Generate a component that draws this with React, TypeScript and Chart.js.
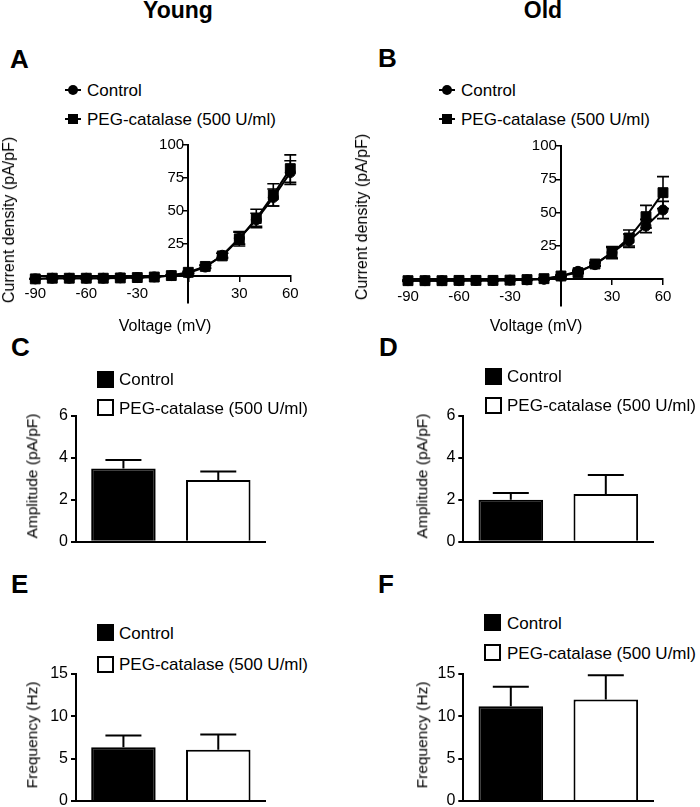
import React, { useEffect, useRef } from "react";
import { Chart, registerables } from "chart.js";

Chart.register(...registerables);
Chart.defaults.font.family = "'Liberation Sans', Arial, sans-serif";
Chart.defaults.color = "#000";

// ---------- Data ----------
const voltages = [-90, -80, -70, -60, -50, -40, -30, -20, -10, 0, 10, 20, 30, 40, 50, 60];
const xTickStep = 30;
const ivTicks = [25, 50, 75, 100];

const youngControl = [-2, -1.5, -1.5, -1.5, -1.5, -1.2, -1, -0.5, 0.5, 2.5, 7, 16, 29, 43, 60, 79];
const youngControlErr = [0.3, 0.3, 0.3, 0.3, 0.3, 0.3, 0.3, 0.3, 0.4, 0.6, 1, 1.5, 4.5, 5, 6.5, 9];
const youngPeg = [-2, -1.5, -1.5, -1.5, -1.5, -1.3, -1, -0.6, 0.5, 3, 7.5, 15.5, 28.5, 44, 62, 82];
const youngPegErr = [0.3, 0.3, 0.3, 0.3, 0.3, 0.3, 0.3, 0.3, 0.5, 0.8, 1.2, 2, 5.5, 7, 8.5, 10.5];

const oldControl = [-1, -1, -1, -1, -0.8, -0.8, -0.6, -0.4, 0, 2.5, 6, 11, 20, 29, 40, 52];
const oldControlErr = [0.3, 0.3, 0.3, 0.3, 0.3, 0.3, 0.3, 0.3, 0.4, 0.5, 0.8, 1.2, 4, 5, 5, 6.5];
const oldPeg = [-1, -1, -1, -0.8, -0.8, -0.8, -0.6, -0.2, 0.5, 2.5, 5, 11.5, 20, 31, 47, 65];
const oldPegErr = [0.3, 0.3, 0.3, 0.3, 0.3, 0.3, 0.3, 0.3, 0.4, 0.5, 0.8, 1.2, 4.5, 6, 8.5, 12];

const groups = ["Control", "PEG-catalase (500 U/ml)"];
const youngAmp = [3.5, 2.95];
const youngAmpErr = [0.4, 0.4];
const oldAmp = [2.0, 2.28];
const oldAmpErr = [0.33, 0.9];
const youngFreq = [6.35, 6.05];
const youngFreqErr = [1.4, 1.8];
const oldFreq = [11.2, 12.0];
const oldFreqErr = [2.3, 2.85];

const FONT = "'Liberation Sans', Arial, sans-serif";

// ---------- Error bar plugin ----------
function drawErrors(chart: any, mode: string) {
  const ctx = chart.ctx;
  chart.data.datasets.forEach((ds: any, i: number) => {
    if (ds.errorMode !== mode || !ds.errors) return;
    const meta = chart.getDatasetMeta(i);
    const yScale = chart.scales[meta.yAxisID];
    const cap = ds.capHalf || 6;
    ctx.save();
    ctx.strokeStyle = "#000";
    ctx.lineWidth = ds.errorWidth || 2;
    meta.data.forEach((el: any, j: number) => {
      const raw = ds.data[j];
      const v = typeof raw === "number" ? raw : raw.y;
      const e = ds.errors[j];
      const x = el.x;
      const yTop = yScale.getPixelForValue(v + e);
      const yMid = yScale.getPixelForValue(v);
      const yBot = mode === "both" ? yScale.getPixelForValue(v - e) : yMid;
      ctx.beginPath();
      ctx.moveTo(x, yTop);
      ctx.lineTo(x, yBot);
      ctx.moveTo(x - cap, yTop);
      ctx.lineTo(x + cap, yTop);
      if (mode === "both") {
        ctx.moveTo(x - cap, yBot);
        ctx.lineTo(x + cap, yBot);
      }
      ctx.stroke();
    });
    ctx.restore();
  });
}

const errorBarPlugin = {
  id: "errorBarPlugin",
  beforeDatasetsDraw(chart: any) {
    drawErrors(chart, "both");
  },
  afterDatasetsDraw(chart: any) {
    drawErrors(chart, "up");
  },
};

// ---------- Configs ----------
function ivConfig(ctrl: number[], ctrlErr: number[], peg: number[], pegErr: number[], padding: any) {
  const toPts = (arr: number[]) => voltages.map((v, i) => ({ x: v, y: arr[i] }));
  const common = {
    borderColor: "#000",
    backgroundColor: "#000",
    pointBackgroundColor: "#000",
    pointBorderColor: "#000",
    pointBorderWidth: 1,
    borderWidth: 2,
    tension: 0,
    clip: false,
    errorMode: "both",
    capHalf: 6,
    errorWidth: 1.6,
  };
  return {
    type: "line",
    data: {
      datasets: [
        { ...common, label: "Control", data: toPts(ctrl), errors: ctrlErr, pointStyle: "circle", pointRadius: 5, order: 2 },
        { ...common, label: "PEG-catalase (500 U/ml)", data: toPts(peg), errors: pegErr, pointStyle: "rect", pointRadius: 7, order: 1 },
      ],
    },
    options: {
      animation: false,
      responsive: false,
      events: [],
      layout: { padding },
      plugins: { legend: { display: false }, tooltip: { enabled: false } },
      scales: {
        x: {
          type: "linear",
          min: -90,
          max: 60,
          position: { y: 0 },
          ticks: {
            stepSize: xTickStep,
            autoSkip: false,
            maxRotation: 0,
            padding: 4,
            font: { size: 15, family: FONT },
            color: "#000",
            callback: (v: any) => (v === 0 ? "" : String(v)),
          },
          grid: { display: true, drawOnChartArea: false, drawTicks: true, tickLength: 5, color: "#000", lineWidth: 1.5 },
          border: { display: true, color: "#000", width: 2 },
          afterFit: (s: any) => {
            s.paddingLeft = 0;
            s.paddingRight = 0;
          },
        },
        y: {
          type: "linear",
          min: -20,
          max: 100,
          position: { x: 0 },
          afterBuildTicks: (ax: any) => {
            ax.ticks = ivTicks.map((v) => ({ value: v }));
          },
          ticks: {
            padding: 2,
            font: { size: 15, family: FONT },
            color: "#000",
            callback: (v: any) => `${v} `,
          },
          grid: { display: true, drawOnChartArea: false, drawTicks: true, tickLength: 5, color: "#000", lineWidth: 1.5 },
          border: { display: true, color: "#000", width: 2 },
          afterFit: (s: any) => {
            s.paddingTop = 0;
            s.paddingBottom = 0;
          },
        },
      },
    },
    plugins: [errorBarPlugin],
  };
}

function barConfig(values: number[], errs: number[], max: number, step: number, axisWidth: number, padding: any) {
  return {
    type: "bar",
    data: {
      labels: groups,
      datasets: [
        {
          label: "value",
          data: values,
          errors: errs,
          errorMode: "up",
          capHalf: 18,
          errorWidth: 2,
          backgroundColor: ["#000", "#fff"],
          borderColor: "#000",
          borderWidth: 2,
          barPercentage: 0.68,
          categoryPercentage: 1,
        },
      ],
    },
    options: {
      animation: false,
      responsive: false,
      events: [],
      layout: { padding },
      plugins: { legend: { display: false }, tooltip: { enabled: false } },
      scales: {
        x: {
          ticks: { display: false },
          grid: { display: false },
          border: { display: true, color: "#000", width: 2 },
          afterFit: (s: any) => {
            s.height = 0;
            s.paddingLeft = 0;
            s.paddingRight = 0;
          },
        },
        y: {
          min: 0,
          max,
          ticks: { stepSize: step, padding: 3, font: { size: 16, family: FONT }, color: "#000" },
          grid: { display: true, drawOnChartArea: false, drawTicks: true, tickLength: 5, color: "#000", lineWidth: 2 },
          border: { display: true, color: "#000", width: 2 },
          afterFit: (s: any) => {
            s.width = axisWidth;
            s.paddingTop = 0;
            s.paddingBottom = 0;
          },
        },
      },
    },
    plugins: [errorBarPlugin],
  };
}

// ---------- Components ----------
function ChartCanvas({ left, top, width, height, make }: any) {
  const ref = useRef<HTMLCanvasElement>(null);
  useEffect(() => {
    const chart = new Chart(ref.current as HTMLCanvasElement, make() as any);
    return () => chart.destroy();
  }, []);
  return (
    <canvas
      ref={ref}
      width={width}
      height={height}
      style={{ position: "absolute", left, top, width, height }}
    />
  );
}

function Label({ x, y, size, bold, children, center, rotate }: any) {
  const style: any = {
    position: "absolute",
    left: x,
    top: y,
    fontSize: size,
    fontWeight: bold ? "bold" : "normal",
    lineHeight: 1,
    whiteSpace: "nowrap",
    fontFamily: FONT,
    color: "#000",
  };
  if (rotate) style.transform = "translate(-50%, -50%) rotate(-90deg)";
  else if (center) style.transform = "translate(-50%, -50%)";
  else style.transform = "translateY(-50%)";
  return <div style={style}>{children}</div>;
}

function LineLegendMarker({ x, y, shape }: any) {
  return (
    <svg
      width={18}
      height={14}
      style={{ position: "absolute", left: x - 9, top: y - 7 }}
    >
      <line x1={1} y1={7} x2={17} y2={7} stroke="#000" strokeWidth={2} />
      {shape === "circle" ? (
        <circle cx={9} cy={7} r={5} fill="#000" />
      ) : (
        <rect x={4} y={2} width={10} height={10} fill="#000" />
      )}
    </svg>
  );
}

function BoxMarker({ x, y, fill }: any) {
  return (
    <div
      style={{
        position: "absolute",
        left: x,
        top: y - 8.5,
        width: 17,
        height: 17,
        boxSizing: "border-box",
        border: "2px solid #000",
        background: fill,
      }}
    />
  );
}

function IVLegend({ mx, tx, y1, y2 }: any) {
  return (
    <>
      <LineLegendMarker x={mx} y={y1} shape="circle" />
      <Label x={tx} y={y1} size={17}>{groups[0]}</Label>
      <LineLegendMarker x={mx} y={y2} shape="rect" />
      <Label x={tx} y={y2} size={17}>{groups[1]}</Label>
    </>
  );
}

function BarLegend({ bx, tx, y1, y2 }: any) {
  return (
    <>
      <BoxMarker x={bx} y={y1} fill="#000" />
      <Label x={tx} y={y1} size={17}>{groups[0]}</Label>
      <BoxMarker x={bx} y={y2} fill="#fff" />
      <Label x={tx} y={y2} size={17}>{groups[1]}</Label>
    </>
  );
}

export default function App() {
  return (
    <div
      style={{
        position: "absolute",
        left: 0,
        top: 0,
        width: 700,
        height: 807,
        background: "#fff",
        overflow: "hidden",
        fontFamily: FONT,
      }}
    >
      <Label x={178} y={10} size={23} bold center>Young</Label>
      <Label x={543} y={10} size={23} bold center>Old</Label>

      <Label x={10} y={59} size={26} bold>A</Label>
      <Label x={378} y={58} size={26} bold>B</Label>
      <Label x={11} y={347} size={26} bold>C</Label>
      <Label x={379} y={347} size={26} bold>D</Label>
      <Label x={11} y={584} size={26} bold>E</Label>
      <Label x={378} y={584} size={26} bold>F</Label>

      {/* Panel A */}
      <IVLegend mx={72.7} tx={87} y1={90} y2={119} />
      <ChartCanvas
        left={0}
        top={120}
        width={330}
        height={220}
        make={() =>
          ivConfig(youngControl, youngControlErr, youngPeg, youngPegErr, {
            left: 35.3,
            top: 25,
            right: 39.7,
            bottom: 37.5,
          })
        }
      />
      <Label x={9} y={220} size={16} rotate>Current density (pA/pF)</Label>
      <Label x={165} y={326} size={16} center>Voltage (mV)</Label>

      {/* Panel B */}
      <IVLegend mx={446.7} tx={461} y1={90} y2={119} />
      <ChartCanvas
        left={350}
        top={120}
        width={350}
        height={220}
        make={() =>
          ivConfig(oldControl, oldControlErr, oldPeg, oldPegErr, {
            left: 58,
            top: 26,
            right: 37,
            bottom: 34,
          })
        }
      />
      <Label x={362} y={217} size={16} rotate>Current density (pA/pF)</Label>
      <Label x={536} y={326} size={16} center>Voltage (mV)</Label>

      {/* Panel C */}
      <BarLegend bx={96.7} tx={119} y1={379} y2={407.5} />
      <ChartCanvas
        left={36}
        top={395}
        width={250}
        height={165}
        make={() => barConfig(youngAmp, youngAmpErr, 6, 2, 40, { left: 0, top: 21, right: 20.3, bottom: 18.3 })}
      />
      <Label x={31.7} y={476} size={15.5} rotate>Amplitude (pA/pF)</Label>

      {/* Panel D */}
      <BarLegend bx={485} tx={507} y1={376} y2={405} />
      <ChartCanvas
        left={423}
        top={395}
        width={250}
        height={165}
        make={() => barConfig(oldAmp, oldAmpErr, 6, 2, 40.3, { left: 0, top: 21, right: 19.7, bottom: 18.3 })}
      />
      <Label x={421.7} y={476} size={15.5} rotate>Amplitude (pA/pF)</Label>

      {/* Panel E */}
      <BarLegend bx={96.7} tx={119} y1={632.5} y2={664.3} />
      <ChartCanvas
        left={36}
        top={655}
        width={250}
        height={152}
        make={() => barConfig(youngFreq, youngFreqErr, 15, 5, 40, { left: 0, top: 19, right: 20.3, bottom: 6 })}
      />
      <Label x={31.7} y={735} size={15.5} rotate>Frequency (Hz)</Label>

      {/* Panel F */}
      <BarLegend bx={484} tx={507} y1={622.5} y2={652.5} />
      <ChartCanvas
        left={423}
        top={655}
        width={250}
        height={152}
        make={() => barConfig(oldFreq, oldFreqErr, 15, 5, 40.3, { left: 0, top: 19, right: 19.7, bottom: 6 })}
      />
      <Label x={421.7} y={735} size={15.5} rotate>Frequency (Hz)</Label>
    </div>
  );
}
